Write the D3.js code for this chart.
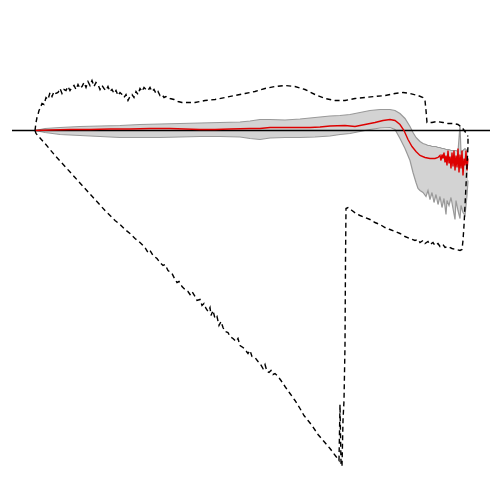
<!DOCTYPE html>
<html><head><meta charset="utf-8">
<script src="https://cdn.jsdelivr.net/npm/d3@7"></script>
<style>html,body{margin:0;padding:0;background:#fff;}</style>
</head><body>
<svg id="c" width="500" height="500"></svg>
<script>
// x: lag index, y: statistic value
const maxSeries = [[0,0],[1,8],[2,13],[3,16],[4,20],[5,22],[7,27],[9,26],[11,33],[13,31],[15,38],[17,34],[19,39],[21,37],[23,38],[25,42],[27,37],[29,41],[31,40],[33,44],[35,40],[37,43],[39,45],[41,41],[43,46],[45,42],[47,44],[49,48],[51,43],[53,49],[55,45],[57,50],[59,44],[61,48],[63,46],[65,41],[67,45],[69,42],[71,40],[73,44],[75,39],[77,41],[79,37],[81,40],[83,35],[85,38],[87,36],[89,33],[91,36],[93,30],[95,34],[97,36],[99,33],[101,39],[103,36],[105,42],[107,39],[109,43],[111,41],[113,40],[115,43],[117,39],[119,41],[121,37],[123,39],[125,35],[127,36],[129,33],[131,34],[135,32],[139,31],[143,29],[147,28],[153,28],[160,28],[170,30],[180,31],[190,33],[200,35],[210,37],[220,39],[230,42],[240,44],[250,45],[260,44],[270,41],[280,36],[290,32],[300,30],[310,30],[320,32],[330,33],[340,34],[350,35],[360,37],[368,38],[375,37],[383,35],[388,33],[390,30],[391,20],[392,8],[397,8],[402,9],[408,8],[413,7],[418,7],[423,6],[427,3],[430,-1],[432,-4],[433,-6]];
const minSeries = [[0,0],[1,-3],[10,-13],[20,-25],[30,-36],[40,-47],[50,-58],[60,-69],[70,-80],[80,-90],[85,-94],[90,-99],[95,-103],[100,-108],[105,-112],[110,-117],[113,-122],[115,-120],[118,-125],[122,-128],[125,-132],[128,-135],[130,-134],[133,-140],[137,-143],[140,-149],[142,-152],[144,-151],[147,-156],[150,-159],[153,-161],[155,-164],[157,-161],[160,-166],[162,-170],[165,-169],[167,-175],[169,-173],[171,-178],[173,-181],[175,-177],[176,-185],[178,-180],[180,-188],[182,-186],[184,-195],[186,-191],[188,-197],[190,-201],[193,-202],[195,-206],[198,-208],[201,-211],[203,-208],[205,-215],[208,-217],[210,-219],[213,-223],[215,-220],[217,-226],[220,-227],[223,-231],[225,-233],[228,-238],[230,-234],[232,-241],[234,-242],[236,-240],[238,-244],[240,-243],[243,-246],[246,-250],[250,-256],[255,-263],[260,-270],[265,-278],[269,-285],[273,-290],[277,-295],[283,-304],[289,-311],[295,-318],[301,-326],[304,-330],[305,-274],[306,-333],[307,-336],[308,-290],[309,-270],[310,-215],[310.5,-130],[311,-78],[313,-77],[317,-80],[321,-83],[325,-85],[330,-87],[335,-89],[340,-92],[345,-94],[350,-97],[355,-99],[360,-101],[365,-103],[370,-106],[375,-108],[380,-110],[383,-109],[385,-112],[388,-110],[390,-113],[393,-111],[395,-114],[398,-112],[400,-115],[403,-113],[405,-116],[408,-114],[410,-117],[413,-116],[417,-118],[421,-119],[425,-120],[427,-119],[428,-110],[429,-95],[430,-75],[431,-55],[432,-35],[433,-15],[433,-6]];
const meanSeries = [[0,0],[15,0.5],[35,1],[55,1],[75,1.5],[95,1.5],[115,2],[135,2],[150,1.5],[165,1],[180,1],[195,1.5],[215,2],[225,2],[235,3],[255,3],[275,3],[285,3.5],[295,4.5],[310,5],[320,4],[330,6],[340,8],[348,10],[355,11],[360,10],[365,6],[369,0],[373,-9],[377,-16],[381,-21],[385,-25],[390,-27],[395,-28],[400,-28],[403,-27],[405,-25],[406,-30],[407,-24],[408,-28],[409,-22],[410,-32],[411,-25],[412,-35],[413,-20],[414,-33],[415,-26],[416,-38],[417,-22],[418,-36],[419,-20],[420,-40],[421,-25],[422,-37],[423,-18],[424,-42],[425,-24],[426,-38],[427,-20],[428,-45],[429,-28],[430,-35],[431,-20],[432,-40],[433,-28]];
// [x, upper, lower]
const bandSeries = [[0,0,0],[10,2,-2],[25,3,-4],[45,4,-5],[65,4.5,-6],[85,5,-7],[105,6,-7],[125,6.5,-7],[145,7,-6.5],[165,7.5,-6],[185,8,-6],[205,8.5,-6.5],[215,9.5,-8],[225,11,-9],[235,11,-7.5],[250,10.5,-7],[265,11.5,-7],[280,13,-6.5],[295,14.5,-5.5],[305,15,-4],[315,16,-3],[325,18,-1],[335,20,1],[345,21,2.5],[355,21,3],[360,20,1],[365,17,-8],[370,12,-18],[375,4,-30],[378,-2,-42],[381,-7,-52],[383,-9,-58],[385,-11,-60],[388,-13,-62],[391,-14,-66],[393,-15,-60],[395,-15,-69],[397,-16,-62],[399,-16,-72],[401,-16,-64],[403,-17,-74],[405,-17,-66],[407,-18,-77],[409,-18,-68],[411,-19,-84],[412,-19,-70],[414,-19,-75],[416,-20,-67],[418,-20,-78],[420,-20,-89],[421,-20,-70],[423,-21,-80],[425,5,-88],[426,-22,-75],[428,-20,-82],[430,-18,-85],[432,-20,-65],[433,-22,-50]];
const zeroLineExtent = [-23, 455];

const svg = d3.select("#c");
svg.append("rect").attr("width",500).attr("height",500).attr("fill","#fff");
const x = d3.scaleLinear().domain([0,433]).range([35,468]);
const y = d3.scaleLinear().domain([-370,130]).range([500.5,0.5]);

const area = d3.area().x(d=>x(d[0])).y0(d=>y(d[2])).y1(d=>y(d[1]));
svg.append("path").datum(bandSeries).attr("d",area).attr("fill","#d3d3d3").attr("stroke","none");
const lineHi = d3.line().x(d=>x(d[0])).y(d=>y(d[1]));
const lineLo = d3.line().x(d=>x(d[0])).y(d=>y(d[2]));
svg.append("path").datum(bandSeries).attr("d",lineHi).attr("fill","none").attr("stroke","#999").attr("stroke-width",1.2);
svg.append("path").datum(bandSeries).attr("d",lineLo).attr("fill","none").attr("stroke","#999").attr("stroke-width",1.2);

svg.append("line").attr("x1",x(zeroLineExtent[0])).attr("x2",x(zeroLineExtent[1]))
  .attr("y1",y(0)).attr("y2",y(0)).attr("stroke","#000").attr("stroke-width",1.3);

const line = d3.line().x(d=>x(d[0])).y(d=>y(d[1]));
svg.append("path").datum(meanSeries).attr("d",line).attr("fill","none").attr("stroke","#dd0000").attr("stroke-width",1.4);

[maxSeries,minSeries].forEach(s=>{
  svg.append("path").datum(s).attr("d",line).attr("fill","none").attr("stroke","#000")
    .attr("stroke-width",1.4).attr("stroke-dasharray","5,3.5");
});
</script>
</body></html>
